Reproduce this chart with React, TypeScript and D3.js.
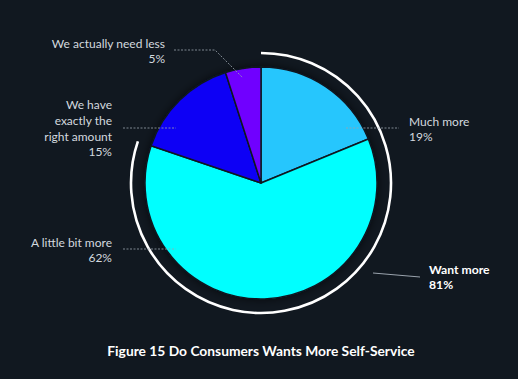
import React from "react";
import * as d3 from "d3";

const categories = ["Much more", "A little bit more", "We have exactly the right amount", "We actually need less"];
const values = [19, 62, 15, 5];
const valueLabels = ["19%", "62%", "15%", "5%"];
const colors = ["#27c6fd", "#00ffff", "#0a00f5", "#7000ff"];
const groupLabel = ["Want more", "81%"];
const title = "Figure 15 Do Consumers Wants More Self-Service";

const W = 518, H = 379;
const cx = 261, cy = 183, R = 116, RO = 130;
const font = "Lato, 'Open Sans', sans-serif";
const textColor = "#d3d9df";

export default function App() {
  const pie = d3.pie<number>().sort(null).value((d) => d)(values);
  const arc = d3.arc<d3.PieArcDatum<number>>().innerRadius(0).outerRadius(R);
  const wantEnd = pie[1].endAngle;
  const outer = d3.arc()({ innerRadius: RO, outerRadius: RO, startAngle: 0, endAngle: wantEnd } as any) as string;

  return (
    <svg width={W} height={H} style={{ position: "absolute", left: 0, top: 0, background: "#111820" }}>
      <defs>
        <filter id="sh" x="-20%" y="-20%" width="140%" height="140%">
          <feDropShadow dx="0" dy="0" stdDeviation="4" floodColor="#000" floodOpacity="0.6" />
        </filter>
      </defs>
      <rect width={W} height={H} fill="#111820" />
      <g transform={`translate(${cx},${cy})`}>
        <g filter="url(#sh)">
          {pie.map((p, i) => (
            <path key={i} d={arc(p) as string} fill={colors[i]} stroke="#111820" strokeWidth={1.5} strokeLinejoin="round" />
          ))}
        </g>
        <path d={outer} fill="none" stroke="#ffffff" strokeWidth={2.6} />
      </g>
      {/* leader lines */}
      <g stroke="#9aa3ad" strokeWidth={0.8} strokeDasharray="2,1.5" fill="none">
        <path d="M174,50 L215,50 L243,78" />
        <path d="M123,128 L176,128" />
        <path d="M123,249 L176,249" />
        <path d="M346,128 L399,128" />
      </g>
      <path d="M373,273 L420,277" stroke="#9aa3ad" strokeWidth={1} fill="none" />
      <g fontFamily={font} fontSize={12} fill={textColor}>
        <text x={409} y={126}>{categories[0]}</text>
        <text x={409} y={141}>{valueLabels[0]}</text>
        <text x={112} y={247} textAnchor="end">{categories[1]}</text>
        <text x={112} y={262} textAnchor="end">{valueLabels[1]}</text>
        <text x={112} y={109} textAnchor="end">We have</text>
        <text x={112} y={125} textAnchor="end">exactly the</text>
        <text x={112} y={141} textAnchor="end">right amount</text>
        <text x={112} y={156} textAnchor="end">{valueLabels[2]}</text>
        <text x={165} y={48} textAnchor="end">{categories[3]}</text>
        <text x={165} y={63} textAnchor="end">{valueLabels[3]}</text>
      </g>
      <g fontFamily={font} fontSize={12.2} fontWeight="bold" fill="#ffffff">
        <text x={429} y={274}>{groupLabel[0]}</text>
        <text x={429} y={289}>{groupLabel[1]}</text>
      </g>
      <text x={261} y={356} textAnchor="middle" fontFamily={font} fontSize={13.8} fontWeight="bold" fill="#ffffff">{title}</text>
    </svg>
  );
}
